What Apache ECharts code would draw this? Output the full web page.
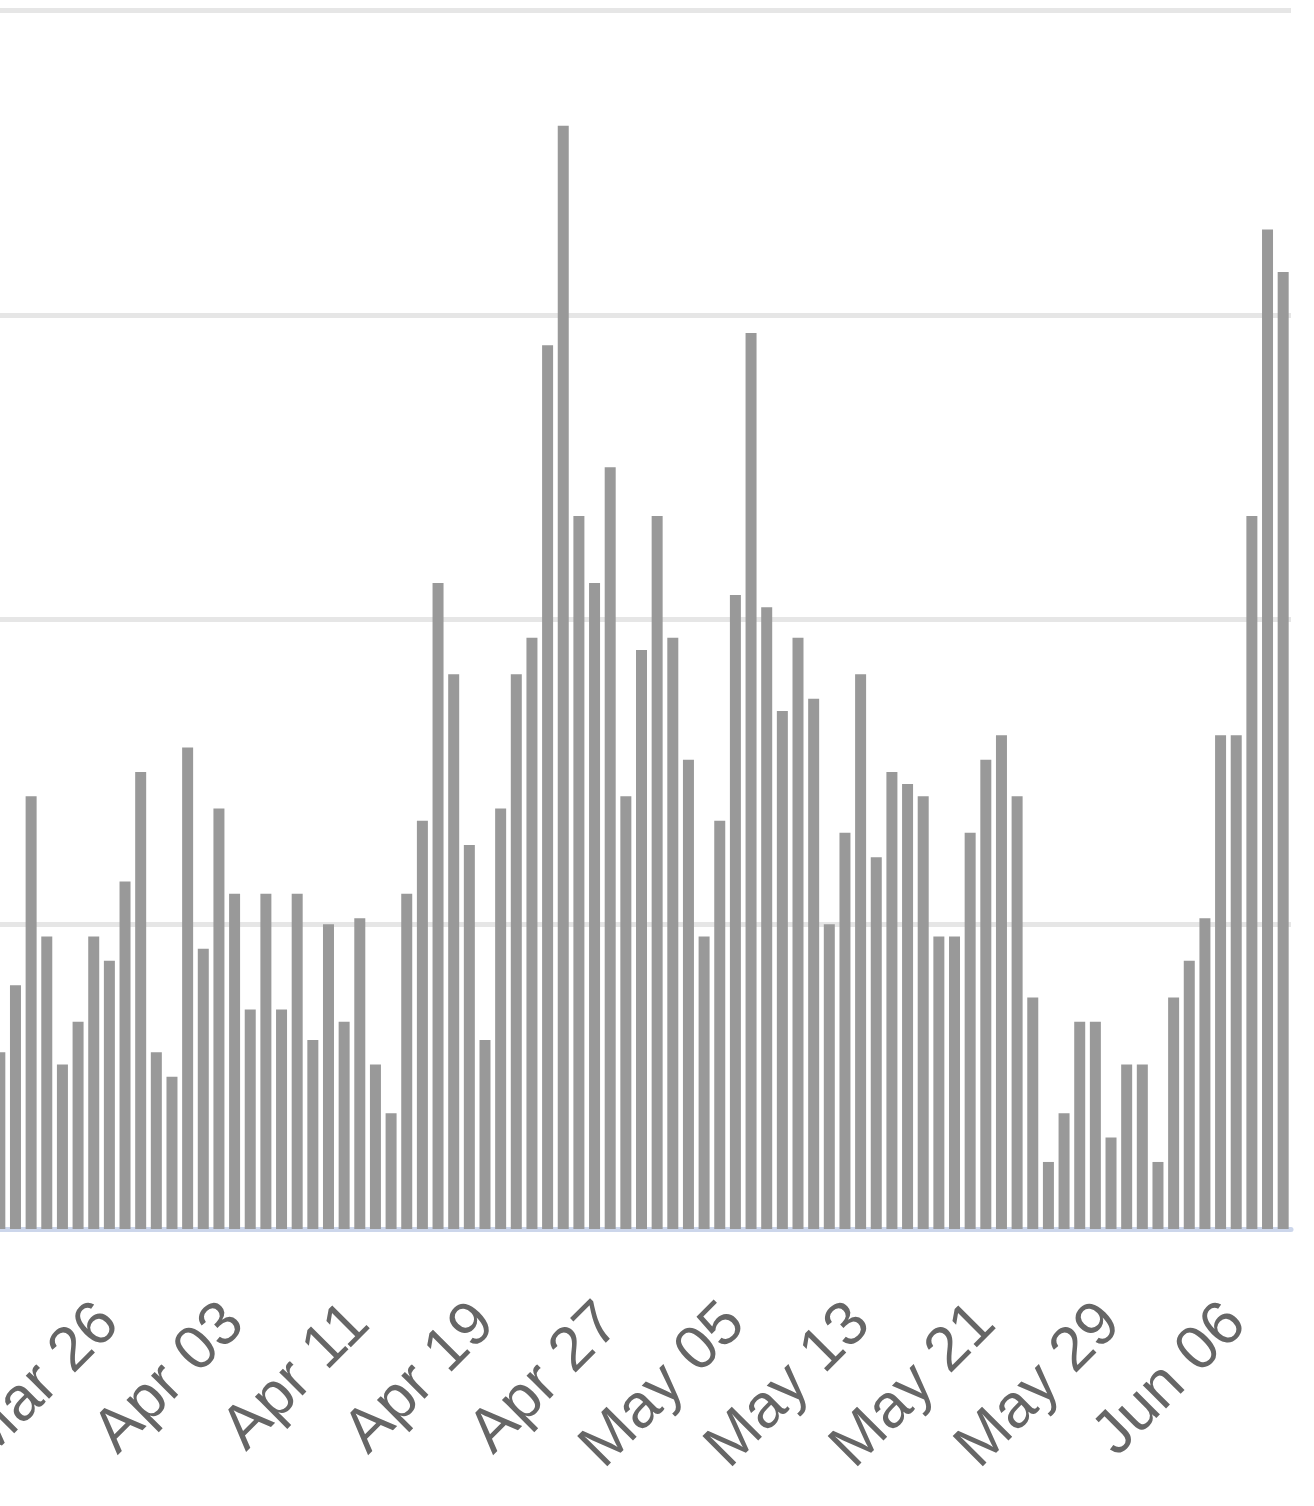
<!DOCTYPE html>
<html>
<head>
<meta charset="utf-8">
<style>
  html, body { margin: 0; padding: 0; background: #ffffff; }
  #chart { width: 1314px; height: 1506px; }
</style>
<script src="https://cdn.jsdelivr.net/npm/echarts@6/dist/echarts.min.js"></script>
</head>
<body>
<div id="chart"></div>
<script>
const categories = [
  "Mar 19","Mar 20","Mar 21","Mar 22","Mar 23","Mar 24","Mar 25","Mar 26","Mar 27","Mar 28","Mar 29","Mar 30","Mar 31",
  "Apr 01","Apr 02","Apr 03","Apr 04","Apr 05","Apr 06","Apr 07","Apr 08","Apr 09","Apr 10",
  "Apr 11","Apr 12","Apr 13","Apr 14","Apr 15","Apr 16","Apr 17","Apr 18","Apr 19","Apr 20",
  "Apr 21","Apr 22","Apr 23","Apr 24","Apr 25","Apr 26","Apr 27","Apr 28","Apr 29","Apr 30",
  "May 01","May 02","May 03","May 04","May 05","May 06","May 07","May 08","May 09","May 10",
  "May 11","May 12","May 13","May 14","May 15","May 16","May 17","May 18","May 19","May 20",
  "May 21","May 22","May 23","May 24","May 25","May 26","May 27","May 28","May 29","May 30","May 31",
  "Jun 01","Jun 02","Jun 03","Jun 04","Jun 05","Jun 06","Jun 07","Jun 08","Jun 09"
];

const values = [
  29, 40, 71, 48, 27, 34, 48, 44, 57, 75,
  29, 25, 79, 46, 69, 55, 36, 55, 36, 55,
  31, 50, 34, 51, 27, 19, 55, 67, 106, 91,
  63, 31, 69, 91, 97, 145, 181, 117, 106, 125,
  71, 95, 117, 97, 77, 48, 67, 104, 147, 102,
  85, 97, 87, 50, 65, 91, 61, 75, 73, 71,
  48, 48, 65, 77, 81, 71, 38, 11, 19, 34,
  34, 15, 27, 27, 11, 38, 44, 51, 81, 81,
  117, 164, 157
];

// index of first labelled category and label step (every 8 days)
const labelOffset = 7;
const labelStep = 8;

const yMin = 0;
const yMax = 200;
const yInterval = 50;

const chart = echarts.init(document.getElementById('chart'), null, { renderer: 'canvas' });

chart.setOption({
  animation: false,
  backgroundColor: '#ffffff',
  grid: {
    left: -8,
    right: 23,
    top: 10,
    bottom: 1506 - 1229,
    containLabel: false,
    outerBoundsMode: 'none'
  },
  xAxis: {
    type: 'category',
    data: categories,
    boundaryGap: true,
    axisLine: { show: true, lineStyle: { color: '#ccd6eb', width: 5 } },
    axisTick: { show: false },
    splitLine: { show: false },
    axisLabel: {
      interval: function (idx) { return (idx - labelOffset) % labelStep === 0; },
      rotate: 45,
      margin: 85,
      color: '#666666',
      fontSize: 62,
      fontFamily: '"Liberation Sans", Arial, sans-serif',
      hideOverlap: false
    }
  },
  yAxis: {
    type: 'value',
    min: yMin,
    max: yMax,
    interval: yInterval,
    axisLine: { show: false },
    axisTick: { show: false },
    axisLabel: { show: false },
    splitLine: { show: true, lineStyle: { color: '#e6e6e6', width: 5 } }
  },
  series: [{
    type: 'bar',
    data: values,
    barWidth: 11,
    itemStyle: { color: '#999999' },
    silent: true
  }]
});
</script>
</body>
</html>
